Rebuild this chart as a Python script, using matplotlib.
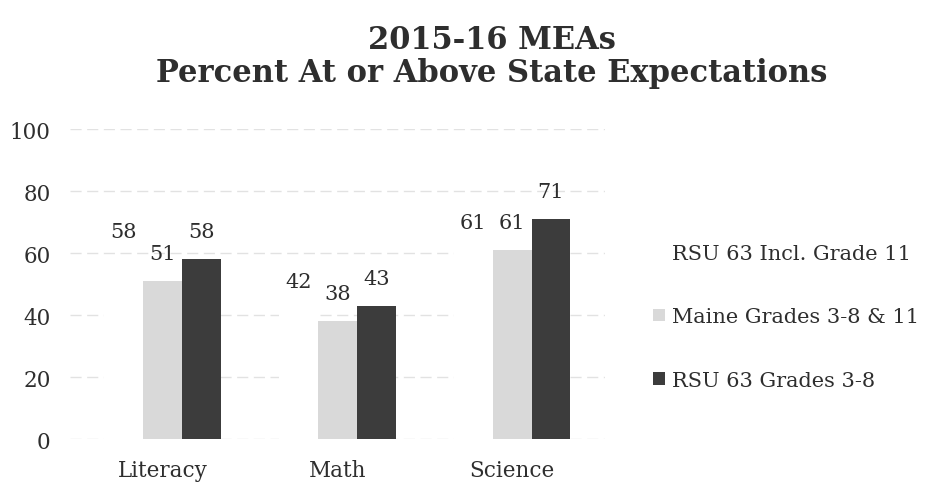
import matplotlib
matplotlib.use("Agg")
import matplotlib.pyplot as plt
import numpy as np

categories = ["Literacy", "Math", "Science"]
series_names = ["RSU 63 Incl. Grade 11", "Maine Grades 3-8 & 11", "RSU 63 Grades 3-8"]
rsu_incl_11 = [58, 42, 61]
maine = [51, 38, 61]
rsu_3_8 = [58, 43, 71]
yticks = [0, 20, 40, 60, 80, 100]

colors = ["#ffffff", "#d9d9d9", "#3c3c3c"]
font = "DejaVu Serif"
tc = "#2e2e2e"

fig = plt.figure(figsize=(9.32, 4.89), dpi=100)
ax = fig.add_axes([0.075, 0.100, 0.574, 0.634])

x = np.arange(len(categories))
w = 0.222
handles = []
for i, (vals, c, name) in enumerate(zip([rsu_incl_11, maine, rsu_3_8], colors, series_names)):
    b = ax.bar(x + (i - 1) * w, vals, w, color=c, label=name, zorder=2)
    handles.append(b)
    for xi, v in zip(x + (i - 1) * w, vals):
        ax.annotate(str(v), (xi, v), xytext=(0, 13), textcoords="offset points",
                    ha="center", va="bottom", fontsize=15, family=font, color=tc)

ax.set_ylim(0, 100)
ax.set_xlim(-0.53, 2.53)
ax.set_yticks(yticks)
ax.set_xticks(x)
ax.set_xticklabels(categories)
for lab in ax.get_xticklabels() + ax.get_yticklabels():
    lab.set_family(font)
    lab.set_fontsize(15.5)
    lab.set_color(tc)
ax.tick_params(axis="x", length=0, pad=14)
ax.tick_params(axis="y", length=0, pad=14)
for s in ax.spines.values():
    s.set_visible(False)
ax.yaxis.grid(True, color="#e2e2e2", linestyle=(0, (8, 4)), linewidth=1, zorder=0)
ax.set_axisbelow(True)

fig.text(0.528, 0.917, "2015-16 MEAs", ha="center", va="center", fontsize=22,
         fontweight="bold", family=font, color=tc)
fig.text(0.528, 0.850, "Percent At or Above State Expectations", ha="center", va="center",
         fontsize=22, fontweight="bold", family=font, color=tc)

leg = fig.legend(handles=handles, labels=series_names, loc="center left",
                 bbox_to_anchor=(0.701, 0.35), frameon=False,
                 prop={"family": font, "size": 15}, labelspacing=2.15,
                 handlelength=0.55, handleheight=0.55, handletextpad=0.35,
                 borderaxespad=0, borderpad=0)
for t in leg.get_texts():
    t.set_color(tc)

fig.savefig("out.png", dpi=100)
